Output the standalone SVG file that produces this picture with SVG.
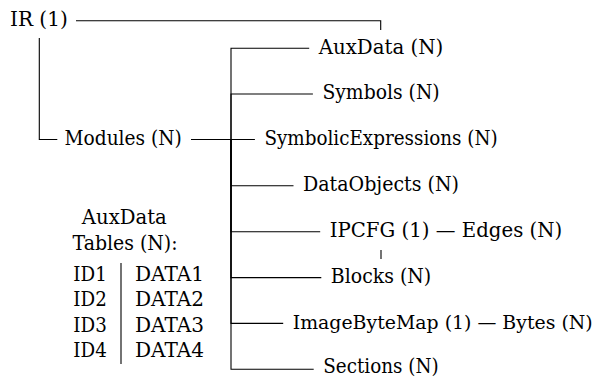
<svg xmlns="http://www.w3.org/2000/svg" width="599" height="378" viewBox="0 0 599 378">
<style>
text{font-family:"DejaVu Serif","Liberation Serif",serif;font-size:20px;fill:#000}
.e{fill:none;stroke:#000;stroke-width:1.1}
</style>
<rect width="599" height="378" fill="#fff"/>
<g id="connectors">
<path class="e" d="M76,20.7H380.7V30"/>
<path class="e" d="M39.3,38V139.5H57.3"/>
<path class="e" d="M191,139.5H231V48.3H309.2"/>
<path class="e" d="M191,139.5H231V94H312.9"/>
<path class="e" d="M191,139.5H231H254.9"/>
<path class="e" d="M191,139.5H231V185.8H293.5"/>
<path class="e" d="M191,139.5H231V231.7H320.2"/>
<path class="e" d="M191,139.5H231V277.6H321.3"/>
<path class="e" d="M191,139.5H231V323.4H283.2"/>
<path class="e" d="M191,139.5H231V369.3H313.7"/>
<path class="e" d="M381,250V259"/>
</g>
<g id="ir"><text x="10" y="26" textLength="57.7" lengthAdjust="spacingAndGlyphs">IR (1)</text></g>
<g id="modules"><text x="64.5" y="144.8" textLength="117.3" lengthAdjust="spacingAndGlyphs">Modules (N)</text></g>
<g id="auxdata"><text x="318.7" y="53.6" textLength="124.6" lengthAdjust="spacingAndGlyphs">AuxData (N)</text></g>
<g id="symbols"><text x="322.4" y="99.3" textLength="117.3" lengthAdjust="spacingAndGlyphs">Symbols (N)</text></g>
<g id="symbolicexpressions"><text x="264.4" y="144.8" textLength="233.3" lengthAdjust="spacingAndGlyphs">SymbolicExpressions (N)</text></g>
<g id="dataobjects"><text x="303" y="191.1" textLength="156" lengthAdjust="spacingAndGlyphs">DataObjects (N)</text></g>
<g id="ipcfg"><text x="329.7" y="237" textLength="232.5" lengthAdjust="spacingAndGlyphs">IPCFG (1) — Edges (N)</text></g>
<g id="blocks"><text x="330.8" y="282.9" textLength="100.4" lengthAdjust="spacingAndGlyphs">Blocks (N)</text></g>
<g id="imagebytemap"><text x="292.7" y="328.7" style="font-size:18.5px" textLength="300" lengthAdjust="spacingAndGlyphs">ImageByteMap (1) — Bytes (N)</text></g>
<g id="sections"><text x="323.2" y="373.4" textLength="115.5" lengthAdjust="spacingAndGlyphs">Sections (N)</text></g>
<g id="auxdata-tables">
<text x="81.8" y="224" textLength="85" lengthAdjust="spacingAndGlyphs">AuxData</text>
<text x="72.5" y="250" textLength="105" lengthAdjust="spacingAndGlyphs">Tables (N):</text>
<text x="73.3" y="280.7" textLength="33.5" lengthAdjust="spacingAndGlyphs">ID1</text>
<text x="73.3" y="306.2" textLength="33.5" lengthAdjust="spacingAndGlyphs">ID2</text>
<text x="73.3" y="331.7" textLength="33.5" lengthAdjust="spacingAndGlyphs">ID3</text>
<text x="73.3" y="357.2" textLength="33.5" lengthAdjust="spacingAndGlyphs">ID4</text>
<text x="135" y="280.7" textLength="69" lengthAdjust="spacingAndGlyphs">DATA1</text>
<text x="135" y="306.2" textLength="69" lengthAdjust="spacingAndGlyphs">DATA2</text>
<text x="135" y="331.7" textLength="69" lengthAdjust="spacingAndGlyphs">DATA3</text>
<text x="135" y="357.2" textLength="69" lengthAdjust="spacingAndGlyphs">DATA4</text>
<path class="e" d="M121,263V364"/>
</g>
</svg>
